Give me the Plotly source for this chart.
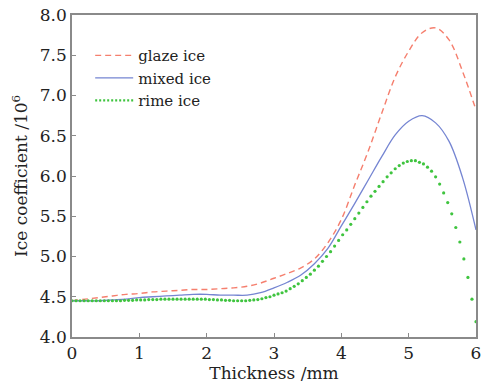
import plotly.graph_objects as go

# ---- data ----
thickness_line = [0.0, 0.2, 0.4, 0.6, 0.8, 1.0, 1.2, 1.4, 1.6, 1.8, 2.0, 2.2, 2.4, 2.6, 2.8,
                  3.0, 3.2, 3.4, 3.6, 3.8, 4.0, 4.2, 4.4, 4.6, 4.8, 5.0, 5.2, 5.4, 5.6, 5.8, 6.0]

glaze_ice = [4.45, 4.47, 4.49, 4.51, 4.53, 4.54, 4.56, 4.57, 4.58, 4.59, 4.59, 4.60, 4.61, 4.63, 4.67,
             4.73, 4.79, 4.86, 4.97, 5.17, 5.46, 5.89, 6.31, 6.78, 7.23, 7.55, 7.78, 7.84, 7.69, 7.30, 6.82]

mixed_ice = [4.45, 4.45, 4.45, 4.46, 4.47, 4.49, 4.50, 4.51, 4.52, 4.53, 4.53, 4.52, 4.52, 4.52, 4.55,
             4.61, 4.68, 4.77, 4.91, 5.10, 5.38, 5.66, 5.95, 6.24, 6.51, 6.68, 6.75, 6.66, 6.43, 5.98, 5.33]

thickness_dots = [round(i * 0.06, 2) for i in range(101)]

rime_ice = [4.45, 4.45, 4.45, 4.45, 4.45, 4.45, 4.45, 4.45, 4.45, 4.45,
            4.45, 4.45, 4.45, 4.455, 4.455, 4.455, 4.46, 4.46, 4.46, 4.465,
            4.465, 4.465, 4.47, 4.47, 4.47, 4.47, 4.47, 4.47, 4.47, 4.47,
            4.47, 4.47, 4.47, 4.47, 4.465, 4.465, 4.46, 4.46, 4.455, 4.455,
            4.45, 4.45, 4.45, 4.45, 4.455, 4.46, 4.465, 4.475, 4.49, 4.50,
            4.52, 4.535, 4.55, 4.57, 4.60, 4.63, 4.66, 4.70, 4.74, 4.78,
            4.83, 4.88, 4.94, 5.00, 5.06, 5.13, 5.20, 5.27, 5.33, 5.40,
            5.47, 5.54, 5.61, 5.68, 5.75, 5.81, 5.87, 5.93, 5.99, 6.04,
            6.09, 6.13, 6.16, 6.18, 6.19, 6.19, 6.17, 6.15, 6.11, 6.06,
            5.99, 5.90, 5.79, 5.67, 5.53, 5.36, 5.18, 4.97, 4.74, 4.47,
            4.19]

x_ticks = [0, 1, 2, 3, 4, 5, 6]
y_ticks = [4.0, 4.5, 5.0, 5.5, 6.0, 6.5, 7.0, 7.5, 8.0]
y_tick_labels = ["4.0", "4.5", "5.0", "5.5", "6.0", "6.5", "7.0", "7.5", "8.0"]

GLAZE_C = "#f57f6e"
MIXED_C = "#7585d2"
RIME_C = "#3fc43f"
FONT = "DejaVu Serif"

fig = go.Figure()
fig.add_trace(go.Scatter(x=thickness_line, y=glaze_ice, mode="lines", name="glaze ice",
                         line=dict(color=GLAZE_C, width=1.4, dash="6px,4px", shape="spline")))
fig.add_trace(go.Scatter(x=thickness_line, y=mixed_ice, mode="lines", name="mixed ice",
                         line=dict(color=MIXED_C, width=1.3, shape="spline")))
fig.add_trace(go.Scatter(x=thickness_dots, y=rime_ice, mode="markers", name="rime ice",
                         showlegend=False, legendgroup="rime", cliponaxis=False,
                         marker=dict(color=RIME_C, size=3.2, line=dict(width=0))))
fig.add_trace(go.Scatter(x=[None], y=[None], mode="lines", name="rime ice", legendgroup="rime",
                         line=dict(color=RIME_C, width=2.2, dash="2px,2px")))

axis_common = dict(showline=True, linecolor="#8a8a8a", linewidth=1.5, mirror=True,
                   ticks="inside", ticklen=4, tickcolor="#8a8a8a", tickwidth=1,
                   showgrid=False, zeroline=False,
                   tickfont=dict(family=FONT, size=17, color="#222"),
                   title_font=dict(family=FONT, size=17, color="#222"))

fig.update_xaxes(range=[0, 6], tickvals=x_ticks, title_text="Thickness /mm",
                 title_standoff=0, **axis_common)
fig.update_yaxes(range=[4.0, 8.0], tickvals=y_ticks, ticktext=y_tick_labels,
                 title_text="Ice coefficient /10<sup>6</sup>", title_standoff=8, **axis_common)

fig.update_layout(
    width=486, height=384, autosize=False,
    margin=dict(l=72, r=5, t=15, b=47),
    paper_bgcolor="white", plot_bgcolor="white",
    showlegend=True,
    legend=dict(x=0.045, y=0.925, xanchor="left", yanchor="top",
                bgcolor="rgba(0,0,0,0)", borderwidth=0, itemwidth=38,
                font=dict(family=FONT, size=15, color="#222"),
                tracegroupgap=0),
)

fig.write_html("out.html", config={"displayModeBar": False},
               post_script="document.body.style.margin='0px';")
